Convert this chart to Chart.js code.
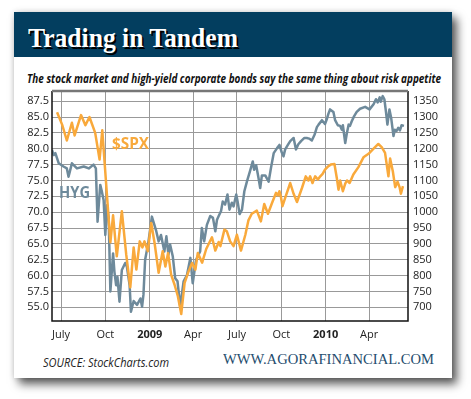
<!DOCTYPE html>
<html>
<head>
<meta charset="utf-8">
<script src="https://cdn.jsdelivr.net/npm/chart.js@4.4.1/dist/chart.umd.min.js"></script>
<style>
  html,body{margin:0;padding:0;background:#fff;}
  body{width:471px;height:399px;position:relative;overflow:hidden;font-family:'Open Sans',sans-serif;}
  #panel{position:absolute;left:14px;top:12px;width:438px;height:366px;background:#fff;
    box-shadow:5px 6px 9px rgba(0,0,0,.65), 0 0 6px rgba(0,0,0,.15);}
  #bar{position:absolute;left:14px;top:12px;width:438px;height:45px;background:#033e5f;}
  .t{position:absolute;white-space:nowrap;line-height:1;transform-origin:0 0;}
  #title{left:28px;top:22px;font:bold 28px 'Liberation Serif',serif;color:#fff;text-shadow:2px 2px 0 #000;}
  #sub{left:27px;top:70px;font:italic bold 12px 'Open Sans',sans-serif;color:#111;}
  #src{left:43px;top:354px;font:italic 12px 'Open Sans',sans-serif;color:#222;}
  #www{left:223px;top:351px;font:15px 'Liberation Serif',serif;color:#1f4d6e;}
  #lblSpx{left:112px;top:132px;font:bold 16px 'Open Sans',sans-serif;color:#f8a93c;}
  #lblHyg{left:59px;top:181px;font:bold 16px 'Open Sans',sans-serif;color:#6e8a9b;}
  #wrap{position:absolute;left:0;top:88px;width:471px;height:260px;}
</style>
</head>
<body>
<div id="panel"></div>
<div id="bar"></div>
<div class="t" id="title">Trading in Tandem</div>
<div class="t" id="sub">The stock market and high-yield corporate bonds say the same thing about risk appetite</div>
<div id="wrap"><canvas id="c" width="471" height="260"></canvas></div>
<div class="t" id="lblSpx">$SPX</div>
<div class="t" id="lblHyg">HYG</div>
<div class="t" id="src">SOURCE: StockCharts.com</div>
<div class="t" id="www">WWW.AGORAFINANCIAL.COM</div>
<script>
// x = weeks since 2008-06-20
const monthWeek  = [1.57, 14.71, 27.86, 40.71, 53.71, 66.86, 80, 92.86];
const monthLabel = ['July','Oct','2009','Apr','July','Oct','2010','Apr'];
const hygTicks = [55.0,57.5,60.0,62.5,65.0,67.5,70.0,72.5,75.0,77.5,80.0,82.5,85.0,87.5];
const spxTicks = [700,750,800,850,900,950,1000,1050,1100,1150,1200,1250,1300,1350];

// S&P 500 ($SPX), right axis
const spxWeek = [0.4,1.9,3.3,4.8,5.6,7.5,8.8,10,11.7,13,13.8,16.2,17,18.1,19.6,20.9,22.1,23.1,23.9,24.9,
  25.7,26.3,27.3,28.3,29.3,30.5,31.7,32.5,33.3,34.2,35.2,36.2,37.2,38.2,39.4,40.4,41.4,42.1,43.4,44.6,
  46.3,47.3,48.3,48.8,50,50.7,51.7,52.7,53.7,54.9,56.2,57.1,58.1,59.6,60.8,61.8,62.9,64.1,65.3,65.9,
  66.3,66.7,67.2,68,69.5,70.5,71.5,73,74.1,74.9,75.4,76.1,76.9,77.7,78.4,79.1,79.8,80.8,81.5,82.6,
  83.3,83.8,84.3,85.1,85.8,86.3,87.1,88.2,89.7,91.2,92.7,94.2,95.6,96.6,97.6,98.6,99.1,99.9,100.6,101.3,
  101.9,102.3,102.9];
const spxClose = [1315,1276,1226,1282,1242,1306,1274,1300,1250,1166,1258,905,990,861,1003,866,763,889,819,908,
  889,908,877,966,903,809,877,829,871,803,772,735,679,777,814,840,819,871,841,884,
  921,879,906,893,945,940,908,893,929,879,929,974,995,1005,971,1026,995,1029,1061,1053,
  1066,1050,1019,1045,1092,1058,1032,1077,1113,1100,1113,1092,1113,1103,1113,1121,1134,1145,1150,1152,
  1108,1071,1100,1066,1090,1100,1092,1119,1142,1173,1184,1200,1215,1205,1187,1113,1169,1129,1079,1096,
  1079,1058,1082];

// iShares high yield bond ETF (HYG), left axis
const hygWeek = [-1.1,-0.6,-0.1,0.9,2.3,3.3,3.8,4.8,6.3,8.3,9.8,11.2,11.9,12.4,13.2,13.7,14.2,14.7,15.2,15.7,
  16.2,17.0,17.4,17.9,18.3,18.9,19.6,20.6,21.1,21.9,22.3,23.1,24.1,25.1,25.6,26.0,26.5,27.5,28.5,29.8,
  30.5,31.2,32.2,32.8,33.4,33.9,34.7,35.4,36.1,36.9,37.9,38.9,39.9,40.6,41.6,42.8,43.3,44.0,44.8,45.8,
  46.6,47.3,47.8,48.3,49.0,49.5,50.2,50.9,51.5,52.2,52.7,53.5,53.9,54.5,55.2,55.9,56.7,57.6,58.4,58.8,
  59.4,60.1,60.6,61.1,62.1,63.1,63.8,64.6,65.6,66.3,67.0,67.5,68.0,68.8,69.5,70.5,71.2,71.9,72.7,73.7,
  74.4,75.1,75.9,76.7,77.4,77.9,78.9,79.8,80.3,80.8,81.3,81.8,82.3,82.8,83.6,84.3,84.8,85.1,85.8,86.3,
  86.8,87.2,87.7,88.4,89.2,90.2,91.7,93.0,94.2,94.9,95.4,96.0,96.3,96.9,97.4,97.9,98.3,98.9,99.4,100.1,
  100.5,101.0,101.5,102.0,102.5,103.2];
const hygClose = [79.8,79.0,79.3,77.7,77.2,76.9,75.6,77.7,76.9,77.2,76.9,77.5,76.9,68.5,74.3,73.2,71.9,66.4,71.1,69.0,
  57.5,63.5,60.6,58.5,59.8,55.9,60.9,62.0,61.4,58.5,54.3,56.0,55.4,56.4,55.1,57.0,62.5,65.4,69.3,67.0,
  65.4,66.4,63.8,66.2,63.3,64.9,63.0,59.6,59.1,55.1,59.1,60.1,62.8,58.8,62.5,63.8,67.5,65.4,68.0,69.4,
  69.1,67.0,68.8,69.4,70.2,71.7,71.2,72.8,70.4,71.5,70.9,72.8,71.7,69.7,70.4,73.3,74.9,76.5,78.0,76.7,
  77.4,75.4,73.8,75.8,75.8,74.8,77.0,79.3,80.1,80.6,79.4,78.8,79.9,80.6,81.2,81.7,79.9,80.7,81.2,81.7,
  81.7,81.6,81.3,82.2,83.4,83.8,84.5,83.9,84.6,85.5,86.2,86.0,85.8,84.5,83.7,83.6,83.0,83.7,80.9,82.5,
  83.8,83.6,84.3,85.1,85.8,86.3,86.6,86.2,87.0,87.8,87.3,88.1,87.4,88.3,87.8,85.7,83.8,86.2,84.9,82.0,
  83.0,82.8,83.3,82.9,83.7,83.6];

// squeeze texts to the widths in the original artwork
function fit(id, w){
  const el = document.getElementById(id);
  const k = w / el.getBoundingClientRect().width;
  el.style.transform = 'scaleX(' + k + ')';
}
fit('title', 210); fit('sub', 414); fit('src', 126); fit('www', 211);
fit('lblSpx', 37); fit('lblHyg', 31);

// fixed axis boxes so the plot area lands where it is in the original
const box = (w, h) => s => {
  if (w != null) s.width = w;
  if (h != null) s.height = h;
  s.paddingTop = 0; s.paddingBottom = 0; s.paddingLeft = 0; s.paddingRight = 0;
};

const frame = {
  id: 'frame',
  afterDraw(chart){
    const {ctx, chartArea: a} = chart;
    ctx.save();
    ctx.strokeStyle = '#111'; ctx.lineWidth = 1.5;
    ctx.beginPath();
    ctx.moveTo(a.left, a.top); ctx.lineTo(a.left, a.bottom);
    ctx.lineTo(a.right, a.bottom); ctx.lineTo(a.right, a.top);
    ctx.stroke();
    ctx.strokeStyle = '#777'; ctx.lineWidth = 2.5;
    ctx.beginPath(); ctx.moveTo(a.left, a.top); ctx.lineTo(a.right, a.top); ctx.stroke();
    ctx.restore();
  }
};

Chart.defaults.font.family = "'Open Sans', sans-serif";
Chart.defaults.font.size = 11;
Chart.defaults.color = '#222';

new Chart(document.getElementById('c'), {
  type: 'line',
  data: {
    datasets: [
      { label: '$SPX', data: spxWeek.map((w,i)=>({x:w, y:spxClose[i]})), yAxisID: 'y1',
        borderColor: '#f9a93b', borderWidth: 2.5 },
      { label: 'HYG', data: hygWeek.map((w,i)=>({x:w, y:hygClose[i]})), yAxisID: 'y',
        borderColor: '#6e8a9b', borderWidth: 2.5 }
    ]
  },
  options: {
    responsive: false,
    devicePixelRatio: 1,
    animation: false,
    layout: { padding: { top: 3, left: 0, right: 0, bottom: 0 } },
    elements: { point: { radius: 0 }, line: { tension: 0, borderJoinStyle: 'round' } },
    plugins: { legend: { display: false }, tooltip: { enabled: false } },
    scales: {
      x: {
        type: 'linear', min: -1.1, max: 104.4,
        afterBuildTicks: s => { s.ticks = monthWeek.map(v => ({ value: v })); },
        afterFit: box(null, 27),
        ticks: {
          autoSkip: false, maxRotation: 0, padding: 7,
          callback: (v, i) => monthLabel[i],
          font: c => ({ size: 11, weight: /^\d{4}$/.test(monthLabel[c.index]) ? 'bold' : 'normal' })
        },
        grid: { color: '#999', lineWidth: 1, drawTicks: false },
        border: { display: false }
      },
      y: {
        position: 'left', min: 52.85, max: 89.1,
        afterBuildTicks: s => { s.ticks = hygTicks.map(v => ({ value: v })); },
        afterFit: box(52, null),
        ticks: { padding: 3, callback: v => v.toFixed(1) },
        grid: { color: '#999', lineWidth: 1, drawTicks: false },
        border: { display: false }
      },
      y1: {
        position: 'right', min: 657, max: 1382,
        afterBuildTicks: s => { s.ticks = spxTicks.map(v => ({ value: v })); },
        afterFit: box(63, null),
        ticks: { padding: 5, callback: v => String(v) },
        grid: { display: false, drawTicks: false },
        border: { display: false }
      }
    }
  },
  plugins: [frame]
});
</script>
</body>
</html>
